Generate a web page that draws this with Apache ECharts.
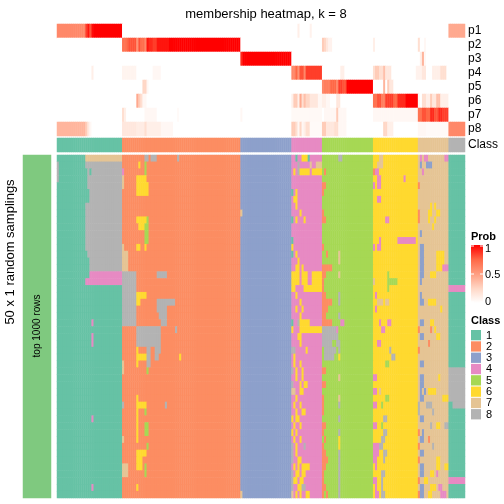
<!DOCTYPE html>
<html><head><meta charset="utf-8">
<script src="https://cdn.jsdelivr.net/npm/echarts@6/dist/echarts.min.js"></script>
<style>html,body{margin:0;padding:0;background:#fff}#c{width:504px;height:504px}</style>
</head><body><div id="c"></div>
<script>
// ---------------- data ----------------
const classLabels = ['1','2','3','4','5','6','7','8'];
const classColors = ['#66C2A5','#FC8D62','#8DA0CB','#E78AC3','#A6D854','#FFD92F','#E5C494','#B3B3B3'];
const classSizes = [32,58,25,15,25,22,15,8];          // number of samples per consensus class
const probRowNames = ['p1','p2','p3','p4','p5','p6','p7','p8'];
const probTicks = ['1','0.5','0'];
// membership probabilities: [row, firstCol, lastCol, value] (all other cells 0)
const probSegments = [
 [0,0,13,0.6],[0,14,14,0.85],[0,15,15,0.95],[0,16,16,0.8],[0,17,17,0.97],[0,18,31,1],[0,118,118,0.1],[0,124,124,0.08],[0,192,199,0.45],
 [1,32,33,0.7],[1,34,34,0.75],[1,35,38,0.8],[1,39,39,0.55],[1,40,40,0.8],[1,41,42,0.72],[1,43,43,0.6],[1,44,44,0.95],[1,45,46,0.9],[1,47,48,0.85],[1,49,54,0.95],[1,55,89,1],[1,130,130,0.3],[1,131,131,0.25],[1,132,132,0.15],[1,133,134,0.08],[1,155,155,0.1],[1,177,177,0.2],[1,180,180,0.05],
 [2,90,90,0.9],[2,91,114,1],[2,178,178,0.1],[2,179,179,0.4],[2,180,180,0.05],
 [3,17,17,0.1],[3,32,38,0.07],[3,47,50,0.05],[3,115,116,0.6],[3,117,117,0.75],[3,118,118,0.55],[3,119,120,0.8],[3,121,121,0.6],[3,122,129,0.85],[3,139,140,0.1],[3,155,155,0.2],[3,156,157,0.3],[3,158,159,0.2],[3,160,160,0.35],[3,161,163,0.15],[3,176,178,0.08],[3,179,180,0.15],[3,184,187,0.1],[3,188,190,0.2],
 [4,42,43,0.25],[4,44,44,0.05],[4,130,130,0.6],[4,131,133,0.65],[4,134,136,0.75],[4,137,137,0.6],[4,138,139,0.85],[4,140,141,0.8],[4,142,154,1],[4,160,160,0.4],[4,162,162,0.3],[4,163,164,0.15],
 [5,39,39,0.45],[5,40,40,0.3],[5,41,41,0.2],[5,42,43,0.05],[5,115,115,0.1],[5,116,117,0.3],[5,118,118,0.1],[5,119,119,0.45],[5,120,120,0.2],[5,121,121,0.35],[5,122,123,0.25],[5,124,127,0.15],[5,128,129,0.05],[5,130,131,0.1],[5,132,133,0.05],[5,137,138,0.15],[5,155,156,0.7],[5,157,158,0.8],[5,159,160,0.65],[5,161,164,0.85],[5,165,166,0.75],[5,167,170,0.9],[5,171,176,1],[5,177,177,0.05],[5,179,180,0.2],[5,181,182,0.1],[5,183,183,0.3],[5,184,185,0.15],[5,186,187,0.35],[5,188,191,0.1],
 [6,32,32,0.2],[6,33,33,0.1],[6,43,48,0.05],[6,59,59,0.03],[6,90,90,0.05],[6,115,129,0.04],[6,131,141,0.05],[6,137,137,0.3],[6,155,176,0.05],[6,177,178,0.7],[6,179,180,0.8],[6,181,182,0.75],[6,183,184,0.9],[6,185,186,0.8],[6,187,188,0.9],[6,189,191,0.85],
 [7,0,13,0.4],[7,14,14,0.3],[7,15,15,0.15],[7,16,16,0.05],[7,32,38,0.15],[7,39,42,0.12],[7,43,43,0.2],[7,44,50,0.1],[7,51,56,0.05],[7,115,116,0.3],[7,117,117,0.2],[7,118,118,0.05],[7,119,119,0.25],[7,120,120,0.05],[7,121,121,0.1],[7,122,123,0.2],[7,124,129,0.03],[7,130,131,0.3],[7,132,135,0.15],[7,136,137,0.2],[7,138,141,0.05],[7,160,161,0.25],[7,162,164,0.1],[7,177,180,0.05],[7,181,191,0.03],[7,192,199,0.6]
];
// 50 random samplings: cells whose class differs from the consensus class, [firstCol, lastCol, class]
const samplingDiffs = [
 [[14,31,7],[43,44,8],[46,48,8],[59,59,8],[117,117,1],[120,122,6],[123,123,1],[138,139,8],[158,159,7],[178,178,4],[180,181,4],[190,191,4],[192,199,1]],
 [[0,0,8],[14,31,8],[40,40,6],[43,43,5],[118,118,8],[124,124,7],[127,129,7],[157,159,7],[178,178,3],[181,183,3],[184,187,7],[192,199,1]],
 [[0,0,8],[15,31,8],[16,16,1],[32,32,4],[43,43,5],[116,116,6],[118,118,8],[119,123,6],[125,129,6],[131,131,2],[155,155,2],[156,157,4],[179,179,4],[192,199,1]],
 [[0,0,8],[15,31,8],[32,32,7],[39,43,6],[157,158,4],[159,160,6],[170,170,4],[192,199,1]],
 [[15,31,8],[32,32,7],[39,43,6],[44,44,6],[130,131,2],[155,155,4],[157,158,4],[177,177,2],[192,199,1]],
 [[16,31,8],[39,43,6],[44,44,6],[115,115,1],[117,117,6],[130,130,2],[192,199,1]],
 [[16,31,8],[116,117,6],[155,155,6],[157,158,4],[192,199,1]],
 [[14,31,8],[117,117,6],[155,156,6],[183,183,6],[185,185,6],[192,199,1]],
 [[14,31,8],[90,90,7],[119,119,6],[130,130,2],[155,156,6],[177,177,2],[182,183,6],[186,187,6],[192,199,1]],
 [[14,31,8],[39,43,6],[44,44,5],[115,115,1],[117,117,6],[121,121,6],[130,131,2],[155,155,6],[161,162,4],[177,177,2],[182,182,6],[185,185,6],[192,199,1]],
 [[14,31,8],[40,42,6],[43,44,5],[155,156,6],[184,184,6],[192,199,1]],
 [[14,31,8],[43,44,5],[178,178,3],[192,199,1]],
 [[14,31,8],[43,44,5],[115,115,1],[157,157,6],[158,158,4],[167,175,4],[192,199,1]],
 [[14,31,8],[32,32,7],[39,40,6],[43,43,6],[115,115,6],[130,130,2],[155,155,4],[157,158,4],[178,179,3],[192,199,1]],
 [[15,31,8],[32,34,7],[115,115,1],[117,117,6],[132,132,2],[138,138,7],[155,155,6],[178,179,3],[186,189,6],[192,199,1]],
 [[16,31,8],[32,34,7],[118,118,6],[138,138,7],[178,179,3],[186,189,6],[192,199,1]],
 [[16,31,8],[32,34,7],[117,118,6],[120,120,6],[130,134,2],[155,155,6],[178,179,3],[186,188,6],[189,191,4],[192,199,1]],
 [[16,31,4],[32,38,8],[49,53,8],[115,118,6],[120,122,6],[125,129,6],[130,131,2],[138,138,7],[162,162,5],[178,179,3],[183,185,6],[192,199,1]],
 [[14,31,4],[32,38,8],[115,118,6],[120,122,6],[125,129,6],[130,130,2],[155,155,7],[157,158,6],[162,166,5],[178,178,3],[192,199,1]],
 [[32,38,8],[115,116,6],[121,129,6],[130,130,2],[156,158,6],[162,162,5],[192,199,4]],
 [[32,38,8],[39,43,6],[117,117,6],[130,131,2],[138,138,8],[156,156,4],[178,178,3],[192,199,1]],
 [[32,38,8],[39,40,6],[49,57,8],[119,119,6],[130,134,2],[138,138,8],[157,159,7],[161,162,7],[178,179,3],[182,185,6],[192,199,1]],
 [[32,38,8],[49,53,8],[117,117,6],[120,120,6],[130,132,2],[156,156,4],[188,188,6],[192,199,1]],
 [[32,38,8],[50,53,8],[119,119,6],[130,131,2],[138,138,8],[155,156,6],[192,199,1]],
 [[17,17,4],[32,38,8],[51,53,8],[115,115,1],[118,118,8],[119,123,6],[130,134,2],[139,140,4],[158,158,4],[162,163,4],[178,179,3],[183,184,6],[192,199,1]],
 [[39,50,8],[58,58,8],[115,115,6],[119,129,6],[130,136,8],[137,137,4],[159,160,4],[177,177,2],[183,183,2],[185,185,6],[192,199,1]],
 [[17,17,4],[39,50,8],[118,119,6],[130,137,8],[178,179,3],[186,187,6],[192,199,1]],
 [[17,17,4],[39,50,8],[119,119,6],[130,134,8],[137,138,8],[157,158,4],[182,182,2],[192,199,1]],
 [[39,39,6],[44,45,8],[48,50,8],[115,116,8],[122,122,6],[131,136,8],[138,138,8],[163,163,8],[177,177,2],[192,199,1]],
 [[39,39,6],[40,43,6],[44,45,8],[48,49,8],[60,60,6],[116,116,6],[131,135,8],[138,138,6],[164,165,8],[192,199,1]],
 [[39,39,6],[44,45,8],[32,32,7],[116,116,6],[119,119,6],[161,162,5],[178,179,3],[192,199,1]],
 [[32,32,7],[44,44,5],[115,115,8],[117,117,6],[120,120,6],[130,131,2]],
 [[117,117,6],[120,120,6],[138,138,7],[155,156,4],[178,179,3],[187,187,6]],
 [[115,115,8],[119,119,6],[121,122,6],[130,131,2],[178,179,3]],
 [[115,116,7],[119,120,6],[155,156,4],[158,158,7],[178,178,3],[180,180,3],[182,185,6]],
 [[39,39,6],[117,117,6],[130,130,2],[138,138,7],[161,162,5],[178,179,3],[189,191,6]],
 [[39,39,6],[40,43,6],[32,32,8],[53,53,8],[116,116,6],[119,119,6],[130,130,2],[138,138,8],[155,156,4],[159,159,5],[177,177,8],[181,183,8],[192,193,1]],
 [[39,39,6],[43,43,5],[117,117,6],[120,121,6],[130,130,2],[177,177,8],[184,184,8],[192,199,1]],
 [[17,17,4],[39,39,6],[115,115,6],[117,118,6],[138,138,8],[160,161,8],[178,179,3],[192,199,1]],
 [[39,39,6],[43,44,5],[116,116,6],[119,119,6],[130,131,2],[155,156,4],[159,159,5],[183,183,8],[186,187,6],[190,191,8],[192,199,1]],
 [[39,39,6],[43,44,5],[115,115,6],[117,117,6],[118,118,4],[130,130,2],[138,138,8],[160,161,8],[177,177,2],[179,179,3],[192,199,1]],
 [[32,32,7],[39,39,6],[116,116,6],[119,119,6],[131,131,2],[138,138,6],[159,160,8],[178,179,3],[182,182,2],[192,199,1]],
 [[44,44,5],[115,115,8],[117,117,6],[121,121,8],[130,130,2],[138,138,6],[155,157,4],[158,159,8],[177,177,2],[184,184,8],[192,199,1]],
 [[39,43,6],[115,115,8],[117,117,6],[130,131,2],[138,138,8],[155,157,4],[160,161,8],[178,179,3],[192,199,1]],
 [[39,41,6],[115,115,8],[118,119,6],[130,132,2],[138,138,8],[155,156,4],[160,160,8],[177,177,2],[186,187,6],[192,199,1]],
 [[39,41,6],[32,34,7],[43,43,5],[116,116,6],[118,118,6],[120,123,6],[130,131,2],[138,138,8],[156,156,4],[178,179,3],[186,187,6],[190,191,6],[192,199,1]],
 [[32,34,7],[43,43,5],[115,115,8],[117,118,6],[120,121,6],[130,130,2],[138,138,8],[159,160,8],[178,179,3],[183,184,6],[186,186,4],[192,199,1]],
 [[115,115,8],[116,117,6],[119,120,6],[130,130,2],[138,138,8],[155,156,4],[159,159,8],[177,177,2],[180,181,6],[192,199,4]],
 [[17,17,4],[39,39,6],[115,115,8],[118,119,6],[120,121,8],[130,131,2],[138,138,8],[156,156,4],[159,159,8],[178,179,3],[183,185,6],[187,188,4],[192,199,1]],
 [[90,90,7],[115,115,7],[117,117,6],[119,119,6],[122,123,6],[130,130,2],[132,132,2],[138,138,8],[156,157,4],[159,160,8],[177,177,2],[178,179,3],[182,183,6],[188,190,4],[192,199,1]]
];
const samplingTitle = '50 x 1 random samplings';
const samplingLabel = 'top 1000 rows';
const chartTitle = 'membership heatmap, k = 8';

// ---------------- build ----------------
const nCol = classSizes.reduce((a,b)=>a+b,0);
const consensus = [];
classSizes.forEach((n,i)=>{ for(let k=0;k<n;k++) consensus.push(i+1); });
const cols = consensus.map((_,i)=>String(i));

const probData = [];
for (let r=0;r<8;r++) for (let c=0;c<nCol;c++) probData.push([c,r,0]);
probSegments.forEach(([r,a,b,v])=>{ for(let c=a;c<=b;c++) probData[r*nCol+c][2]=v; });

const classRowData = consensus.map((k,c)=>[c,0,k]);

const mainData = [];
samplingDiffs.forEach((diffs,r)=>{
  const row = consensus.slice();
  diffs.forEach(([a,b,k])=>{ for(let c=a;c<=b;c++) row[c]=k; });
  row.forEach((k,c)=>mainData.push([c,r,k]));
});
const rows = samplingDiffs.map((_,i)=>String(i));

const font = '"Liberation Sans", Arial, sans-serif';
const L = 57, W = 408;
const hideAx = {show:false};

const chart = echarts.init(document.getElementById('c'), null, {renderer:'canvas'});
const classPieces = classColors.map((c,i)=>({value:i+1, color:c}));

const legendG = [];
legendG.push({type:'text', left:471, top:231, z:100, style:{text:'Prob', font:'bold 11px '+font, fill:'#000'}});
legendG.push({type:'rect', z:100, shape:{x:471,y:245,width:12,height:58},
  style:{fill:new echarts.graphic.LinearGradient(0,0,0,1,[
    {offset:0,color:'#FF0000'},{offset:0.25,color:'#FF6846'},{offset:0.5,color:'#FF9E81'},{offset:0.75,color:'#FFD7C6'},{offset:1,color:'#FFFFFF'}])}});
[[249,probTicks[0]],[275.5,probTicks[1]],[302,probTicks[2]]].forEach(([y,t],i)=>{
  const ty = i===0?246:(i===1?274:302);
  legendG.push({type:'line', z:101, shape:{x1:471,y1:ty,x2:474,y2:ty}, style:{stroke:'#fff',lineWidth:1}});
  legendG.push({type:'line', z:101, shape:{x1:480,y1:ty,x2:483,y2:ty}, style:{stroke:'#fff',lineWidth:1}});
  legendG.push({type:'text', z:100, left:485, top:y-6, style:{text:t, font:'11px '+font, fill:'#000'}});
});
legendG.push({type:'text', z:100, left:471, top:315, style:{text:'Class', font:'bold 11px '+font, fill:'#000'}});
classLabels.forEach((t,i)=>{
  const y = 330 + i*11.3;
  legendG.push({type:'rect', z:100, shape:{x:471,y:y,width:10,height:10.3}, style:{fill:classColors[i]}});
  legendG.push({type:'text', z:100, left:486, top:y, style:{text:t, font:'11px '+font, fill:'#000'}});
});
legendG.push({type:'text', z:100, x:10, y:252, rotation:Math.PI/2,
  style:{text:samplingTitle, font:'13px '+font, fill:'#000', align:'center', verticalAlign:'middle'}});
legendG.push({type:'text', z:100, x:37, y:326, rotation:Math.PI/2,
  style:{text:samplingLabel, font:'10px '+font, fill:'#000', align:'center', verticalAlign:'middle'}});

chart.setOption({
  animation:false,
  backgroundColor:'#fff',
  title:{text:chartTitle, left:261, top:3, textAlign:'center',
    textStyle:{fontSize:13, fontWeight:'normal', fontFamily:font, color:'#000'}},
  grid:[
    {left:L, top:24, width:W, height:112},
    {left:L, top:138, width:W, height:14},
    {left:L, top:155, width:W, height:343},
    {left:23, top:155, width:28, height:343}
  ],
  xAxis:[
    {type:'category', data:cols, gridIndex:0, ...hideAx},
    {type:'category', data:cols, gridIndex:1, ...hideAx},
    {type:'category', data:cols, gridIndex:2, ...hideAx},
    {type:'category', data:['a'], gridIndex:3, ...hideAx}
  ],
  yAxis:[
    {type:'category', data:probRowNames, gridIndex:0, inverse:true, position:'right',
     axisLine:{show:false}, axisTick:{show:false}, splitLine:{show:false},
     axisLabel:{interval:0, margin:3, fontSize:12, color:'#000', fontFamily:font}},
    {type:'category', data:['Class'], gridIndex:1, position:'right',
     axisLine:{show:false}, axisTick:{show:false}, splitLine:{show:false},
     axisLabel:{interval:0, margin:3, fontSize:12, color:'#000', fontFamily:font}},
    {type:'category', data:rows, gridIndex:2, inverse:true, ...hideAx},
    {type:'category', data:['s'], gridIndex:3, ...hideAx}
  ],
  visualMap:[
    {type:'continuous', min:0, max:1, dimension:2, seriesIndex:0, show:false,
     inRange:{color:['#FFFFFF','#FFD7C6','#FF9E81','#FF6846','#FF0000']}},
    {type:'piecewise', dimension:2, seriesIndex:[1,2], show:false, pieces:classPieces},
    {type:'piecewise', dimension:2, seriesIndex:3, show:false, pieces:[{value:1,color:'#7FC97F'}]}
  ],
  series:[
    {type:'heatmap', xAxisIndex:0, yAxisIndex:0, data:probData},
    {type:'heatmap', xAxisIndex:1, yAxisIndex:1, data:classRowData},
    {type:'heatmap', xAxisIndex:2, yAxisIndex:2, data:mainData},
    {type:'heatmap', xAxisIndex:3, yAxisIndex:3, data:[[0,0,1]]}
  ],
  graphic:legendG
});
</script></body></html>
